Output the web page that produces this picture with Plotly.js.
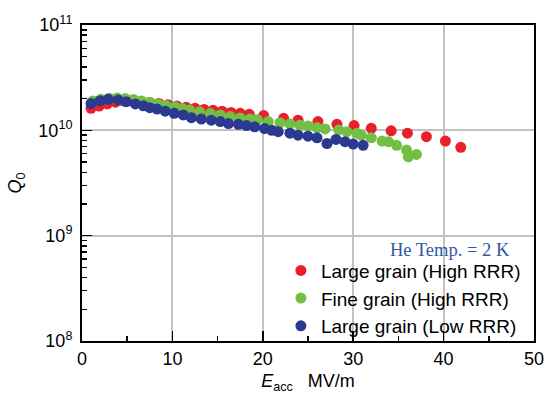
<!DOCTYPE html>
<html>
<head>
<meta charset="utf-8">
<script src="https://cdn.plot.ly/plotly-3.0.1.min.js"></script>
<style>html,body{margin:0;padding:0;background:#fff;}#chart{width:546px;height:394px;}</style>
</head>
<body>
<div id="chart"></div>
<script>
// Large grain (High RRR)
const redE = [1.0,1.9,2.8,3.7,4.6,5.5,6.5,7.5,8.5,9.5,10.5,11.5,12.5,13.5,14.5,15.5,16.5,17.5,18.5,20.1,22.3,23.9,26.1,28.2,30.1,32.0,34.2,36.0,38.1,40.2,41.9];
const redQ = [1.62e10,1.70e10,1.78e10,1.85e10,1.90e10,1.90e10,1.88e10,1.84e10,1.80e10,1.75e10,1.70e10,1.66e10,1.62e10,1.58e10,1.55e10,1.52e10,1.48e10,1.45e10,1.42e10,1.38e10,1.30e10,1.25e10,1.21e10,1.14e10,1.11e10,1.045e10,0.99e10,0.94e10,0.87e10,0.79e10,0.69e10];
// Fine grain (High RRR)
const greenE = [1.2,2.1,3.0,3.9,4.8,5.7,6.6,7.5,8.4,9.3,10.3,11.1,11.9,13.0,14.2,15.3,16.4,17.5,18.6,19.4,20.6,21.9,23.0,24.1,25.0,26.0,26.9,28.4,29.3,30.4,30.9,32.0,33.2,33.9,34.8,35.9,36.1,37.0];
const greenQ = [1.90e10,1.97e10,2.02e10,2.03e10,2.00e10,1.96e10,1.90e10,1.84e10,1.78e10,1.72e10,1.67e10,1.61e10,1.56e10,1.50e10,1.45e10,1.40e10,1.35e10,1.31e10,1.28e10,1.26e10,1.21e10,1.18e10,1.15e10,1.12e10,1.10e10,1.06e10,1.03e10,1.01e10,0.97e10,0.94e10,0.90e10,0.85e10,0.79e10,0.78e10,0.72e10,0.65e10,0.56e10,0.59e10];
// Large grain (Low RRR)
const blueE = [1.0,2.0,2.9,4.0,4.9,5.9,6.8,7.5,8.3,9.2,10.2,11.2,12.1,13.2,14.3,15.3,16.2,17.3,18.2,19.1,20.2,21.0,21.7,23.0,23.9,25.0,26.0,27.1,28.1,29.1,30.0,31.1];
const blueQ = [1.80e10,1.91e10,1.97e10,1.94e10,1.87e10,1.78e10,1.71e10,1.64e10,1.59e10,1.52e10,1.45e10,1.40e10,1.32e10,1.28e10,1.25e10,1.21e10,1.16e10,1.14e10,1.11e10,1.08e10,1.04e10,1.00e10,0.97e10,0.94e10,0.90e10,0.88e10,0.85e10,0.75e10,0.82e10,0.78e10,0.74e10,0.72e10];

const seriesNames = ['Large grain (High RRR)','Fine grain (High RRR)','Large grain (Low RRR)'];
const seriesColors = ['#e8202a','#72bf44','#2b3990'];
const yTickVals = [1e8,1e9,1e10,1e11];
const yTickText = ['10<sup>8</sup>','10<sup>9</sup>','10<sup>10</sup>','10<sup>11</sup>'];
const yMinorVals = [];
[1e8,1e9,1e10].forEach(d => { for (let k = 2; k <= 9; k++) yMinorVals.push(k*d); });

const font = 'Liberation Sans, Arial, Helvetica, sans-serif';
const mk = (x, y, i) => ({
  x: x, y: y, type: 'scatter', mode: 'markers', name: seriesNames[i],
  marker: {color: seriesColors[i], size: 11, line: {width: 0}}
});
const data = [mk(redE, redQ, 0), mk(greenE, greenQ, 1), mk(blueE, blueQ, 2)];

const layout = {
  width: 546, height: 394,
  margin: {l: 82, r: 12, t: 25, b: 53},
  paper_bgcolor: '#fff', plot_bgcolor: '#fff',
  showlegend: true,
  font: {family: font, size: 18, color: '#000'},
  xaxis: {
    range: [0, 50], dtick: 10, tick0: 0,
    showline: true, linecolor: '#000', linewidth: 2, mirror: true,
    ticks: 'inside', ticklen: 10, tickwidth: 1.5, tickcolor: '#000',
    showgrid: true, gridcolor: '#c2c2c2', gridwidth: 2, zeroline: false,
    minor: {dtick: 5, ticks: 'inside', ticklen: 5, tickwidth: 1.5, tickcolor: '#000', showgrid: false},
    tickfont: {family: font, size: 18, color: '#000'},
    title: {text: '<i>E</i><sub>acc</sub>   MV/m', font: {family: font, size: 18, color: '#000'}, standoff: 8}
  },
  yaxis: {
    type: 'log', range: [8, 11],
    tickmode: 'array', tickvals: yTickVals, ticktext: yTickText,
    showline: true, linecolor: '#000', linewidth: 2, mirror: true,
    ticks: 'inside', ticklen: 10, tickwidth: 1.5, tickcolor: '#000',
    showgrid: true, gridcolor: '#c2c2c2', gridwidth: 2, zeroline: false,
    minor: {tickmode: 'array', tickvals: yMinorVals, ticks: 'inside', ticklen: 5, tickwidth: 1.5, tickcolor: '#000', showgrid: false},
    tickfont: {family: font, size: 18, color: '#000'},
    ticklabelstandoff: 4,
    title: {text: '<i>Q</i><sub>0</sub>', font: {family: font, size: 18, color: '#000'}, standoff: 12}
  },
  legend: {
    x: 0.44, xanchor: 'left', y: 0.283, yanchor: 'top',
    bgcolor: 'rgba(0,0,0,0)', borderwidth: 0,
    font: {family: font, size: 19, color: '#000'},
    itemwidth: 30, tracegroupgap: 0
  },
  shapes: [{
    type: 'rect', layer: 'between', xref: 'x', yref: 'paper',
    x0: 22.3, x1: 50, y0: 0, y1: 0.326,
    fillcolor: '#fff', line: {width: 0}
  }],
  annotations: [{
    text: 'He Temp. = 2 K', xref: 'paper', yref: 'paper',
    x: 0.951, y: 0.288, xanchor: 'right', yanchor: 'middle', showarrow: false,
    font: {family: 'Liberation Serif, Times New Roman, serif', size: 18.5, color: '#3058a8'}
  }]
};

Plotly.newPlot('chart', data, layout, {staticPlot: true, displayModeBar: false});
</script>
</body>
</html>
